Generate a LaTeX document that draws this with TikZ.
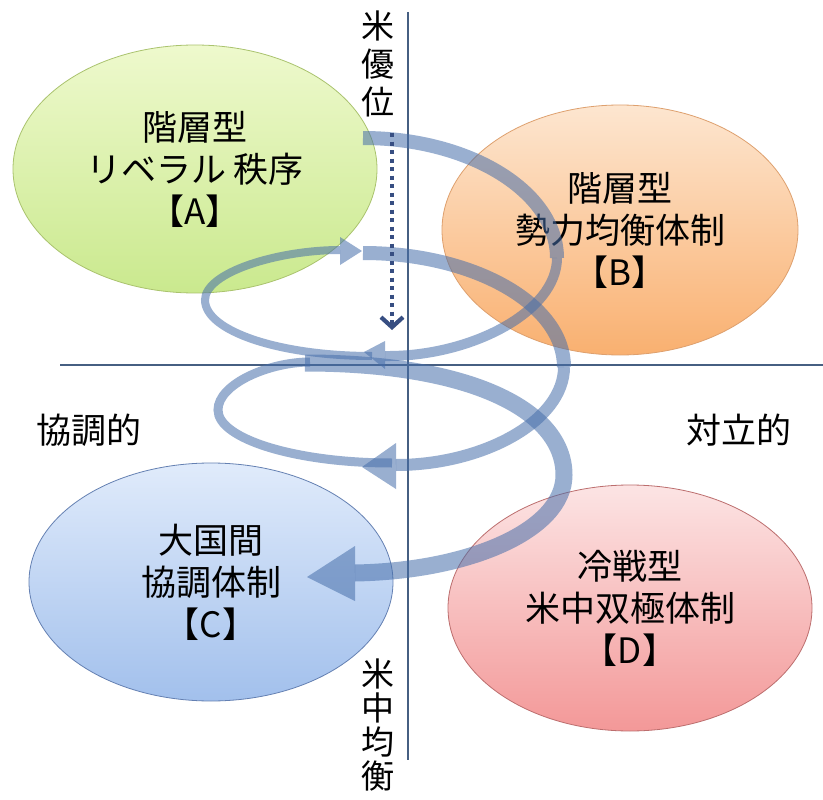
\documentclass[tikz,border=0pt]{standalone}
\usepackage{fontspec}
\newfontfamily\jp{Noto Sans CJK JP}
\usetikzlibrary{shapes.geometric,
	arrows.meta,
	positioning}
\definecolor{spiral}{RGB}{70,110,170}
\definecolor{axisline}{RGB}{70,95,130}
\definecolor{dotline}{RGB}{55,78,130}
\definecolor{aTop}{RGB}{238,249,205}
\definecolor{aBot}{RGB}{202,233,142}
\definecolor{aEdge}{RGB}{170,195,110}
\definecolor{bTop}{RGB}{253,230,208}
\definecolor{bBot}{RGB}{249,176,112}
\definecolor{bEdge}{RGB}{222,160,110}
\definecolor{cTop}{RGB}{224,235,251}
\definecolor{cBot}{RGB}{162,192,236}
\definecolor{cEdge}{RGB}{100,128,178}
\definecolor{dTop}{RGB}{252,228,228}
\definecolor{dBot}{RGB}{243,152,152}
\definecolor{dEdge}{RGB}{188,110,110}

\begin{document}
\begin{tikzpicture}[x=1pt, y=-1pt,
	region/.style={ellipse, inner sep=0pt, minimum width=364pt, line width=0.8pt,
		align=center, font=\jp\fontsize{35}{42}\selectfont},
	side/.style={inner sep=0pt, font=\jp\fontsize{35}{42}\selectfont},
	vlabel/.style={inner sep=0pt, align=center, font=\jp\fontsize{33}{#1}\selectfont},
	axis/.style={draw=axisline, line width=1.2pt},
	ribbon/.style={draw=spiral, draw opacity=0.55, line cap=butt},
	ribbonhead/.style={fill=spiral, fill opacity=0.55},
	dotarrow/.style={draw=dotline, line width=4.2pt, dash pattern=on 4pt off 4.5pt,
		-{Straight Barb[length=10pt, width=22pt]}}]
	\useasboundingbox (0,0) rectangle (823,800);
	\fill[white] (0,0) rectangle (823,800);

	% four orders
	\node[region, minimum height=248pt, top color=aTop, bottom color=aBot, draw=aEdge] (liberal) at (195,169) {階層型\\リベラル 秩序\\【A】};
	\node[region, minimum width=356pt, minimum height=250pt, top color=bTop, bottom color=bBot, draw=bEdge] (balance) at (620,230) {階層型\\勢力均衡体制\\【B】};
	\node[region, minimum height=238pt, top color=cTop, bottom color=cBot, draw=cEdge] (concert) at (211,582) {大国間\\協調体制\\【C】};
	\node[region, minimum height=246pt, top color=dTop, bottom color=dBot, draw=dEdge] (bipolar) at (630,608) {冷戦型\\米中双極体制\\【D】};

	% axes
	\coordinate (vTop) at (408,12);
	\coordinate (vBot) at (408,760);
	\coordinate (hLeft) at (60,365);
	\coordinate (hRight) at (823,365);
	\draw[axis] (vTop) -- (vBot);
	\draw[axis] (hLeft) -- (hRight);

	% spiral, turn 1
	\draw[ribbon, line width=14pt] (363,138) .. controls (470,138) and (557,192) .. (557,258);
	\draw[ribbon, line width=10pt] (557,258) .. controls (557,312) and (470,357) .. (385,356);
	\fill[ribbonhead] (385,341) -- (364,352) -- (385,369) -- cycle;
	\draw[ribbon, line width=8pt] (372,356) .. controls (279,356) and (205,331) .. (205,300)
		.. controls (205,272) and (279,250) .. (340,250);
	\fill[ribbonhead] (340,237) -- (362,251) -- (340,265) -- cycle;
	% turn 2
	\draw[ribbon, line width=14pt] (363,253) .. controls (474,253) and (564,304) .. (564,367);
	\draw[ribbon, line width=12pt] (564,367) .. controls (564,421) and (483,465) .. (396,465);
	\fill[ribbonhead] (396,443) -- (362,467) -- (396,489) -- cycle;
	\draw[ribbon, line width=9pt] (392,463) .. controls (296,463) and (218,439) .. (218,410)
		.. controls (218,384) and (269,362) .. (310,362);
	% turn 3
	\draw[ribbon, line width=17pt] (305,363) .. controls (470,363) and (564,410) .. (564,475)
		.. controls (564,530) and (470,571) .. (355,573);
	\fill[ribbonhead] (355,546) -- (307,577) -- (355,601) -- cycle;

	% axis labels
	\node[side] (coop) at (89,430) {協調的};
	\node[side] (conflict) at (739,430) {対立的};
	\node[vlabel=38] (usLead) at (378,64) {米\\優\\位};
	\node[vlabel=34] (usChina) at (378,725) {米\\中\\均\\衡};

	\coordinate (dotStart) at (392,133);
	\coordinate (dotEnd) at (392,330);
	\draw[dotarrow] (dotStart) -- (dotEnd);
\end{tikzpicture}
\end{document}
